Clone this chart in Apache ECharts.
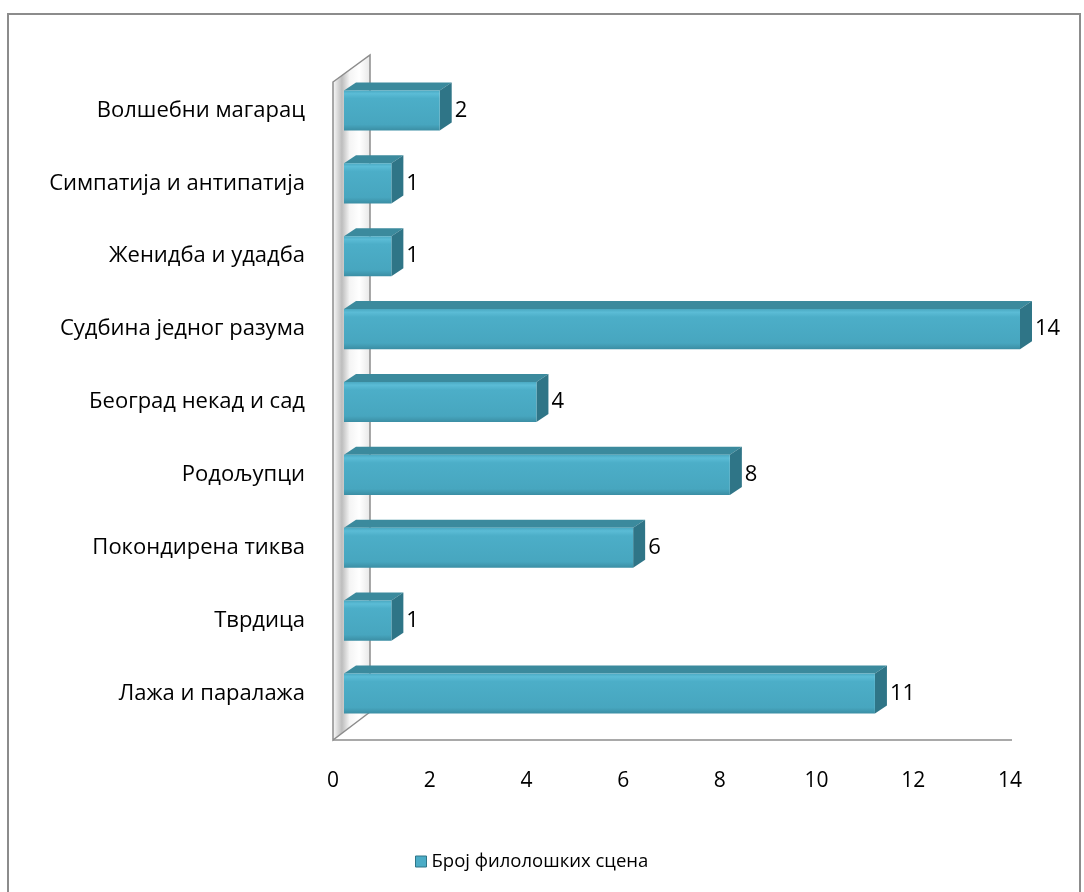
<!DOCTYPE html>
<html>
<head>
<meta charset="utf-8">
<style>
html,body{margin:0;padding:0;background:#fff;}
#c{width:1084px;height:892px;}
</style>
<script src="https://cdn.jsdelivr.net/npm/echarts@6/dist/echarts.min.js"></script>
</head>
<body>
<div id="c"></div>
<script>
// Data (bottom to top as in the chart)
const categories = [
  'Лажа и паралажа',
  'Тврдица',
  'Покондирена тиква',
  'Родољупци',
  'Београд некад и сад',
  'Судбина једног разума',
  'Женидба и удадба',
  'Симпатија и антипатија',
  'Волшебни магарац'
];
const values = [11, 1, 6, 8, 4, 14, 1, 1, 2];
const seriesName = 'Број филолошких сцена';
const xTicks = [0, 2, 4, 6, 8, 10, 12, 14];

const FONT = '"Open Sans", "Noto Sans", sans-serif';
const DX = 12, DY = -8;

const chart = echarts.init(document.getElementById('c'), null, {renderer: 'canvas'});

function renderBar(params, api) {
  const cat = api.value(0);
  const v = api.value(1);
  const p0 = api.coord([0, cat]);
  const p1 = api.coord([v, cat]);
  const band = api.size([0, 1])[1];
  const h = band * 0.55;
  const x0 = p0[0] + 11;
  const x1 = p1[0] + 10;
  const yT = p0[1] - h / 2;
  const yB = p0[1] + h / 2;
  return {
    type: 'group',
    children: [
      {
        type: 'polygon',
        shape: {points: [[x0, yT], [x1, yT], [x1 + DX, yT + DY], [x0 + DX, yT + DY]]},
        style: {fill: '#3b8a9d'}
      },
      {
        type: 'polygon',
        shape: {points: [[x1, yT], [x1 + DX, yT + DY], [x1 + DX, yB + DY], [x1, yB]]},
        style: {fill: '#2f7587'}
      },
      {
        type: 'rect',
        shape: {x: x0, y: yT, width: x1 - x0, height: h},
        style: {
          fill: new echarts.graphic.LinearGradient(0, 0, 0, 1, [
            {offset: 0, color: '#4aa9c2'},
            {offset: 0.08, color: '#5bbcd6'},
            {offset: 0.2, color: '#4caec8'},
            {offset: 0.85, color: '#47a6bf'},
            {offset: 1, color: '#3b8ea4'}
          ])
        }
      },
      {
        type: 'text',
        style: {
          text: String(v),
          x: x1 + DX + 3,
          y: p0[1],
          textVerticalAlign: 'middle',
          verticalAlign: 'middle',
          fill: '#000',
          font: '22px ' + FONT
        }
      }
    ]
  };
}

const option = {
  animation: false,
  backgroundColor: '#fff',
  grid: {left: 333, right: 74, top: 74, bottom: 162},
  xAxis: {
    type: 'value',
    min: 0, max: 14, interval: 2,
    axisLine: {show: false},
    axisTick: {show: false},
    splitLine: {show: false},
    axisLabel: {
      margin: 41,
      color: '#000',
      fontSize: 21,
      fontFamily: FONT,
      formatter: function (v) { return xTicks.indexOf(v) >= 0 ? String(v) : ''; }
    }
  },
  yAxis: {
    type: 'category',
    data: categories,
    axisLine: {show: false},
    axisTick: {show: false},
    splitLine: {show: false},
    axisLabel: {
      margin: 28,
      color: '#000',
      fontSize: 22,
      fontFamily: FONT
    }
  },
  legend: {
    left: 410,
    top: 847,
    itemWidth: 11,
    itemHeight: 11,
    itemGap: 9,
    textStyle: {color: '#000', fontSize: 18.5, fontFamily: FONT},
    data: [{
      name: seriesName,
      icon: 'rect',
      itemStyle: {color: '#4bacc6', borderColor: '#2f7587', borderWidth: 1}
    }]
  },
  series: [{
    name: seriesName,
    type: 'custom',
    renderItem: renderBar,
    itemStyle: {color: '#4bacc6'},
    encode: {x: 1, y: 0},
    data: values.map(function (v, i) { return [i, v]; }),
    z: 10
  }]
};
chart.setOption(option);

// Decorative wall, floor and chart border derived from axis positions
const px0 = chart.convertToPixel({gridIndex: 0}, [0, 0]);
const pxMax = chart.convertToPixel({gridIndex: 0}, [14, 0]);
const gridTop = 74, gridBottom = 892 - 162;
const wx = px0[0], wBack = wx + 37;
const floorY = gridBottom + 10;
const topY = gridTop + 8;
chart.setOption({
  graphic: [
    {
      type: 'rect', z: -10,
      shape: {x: 8, y: 14, width: 1072, height: 900},
      style: {fill: 'none', stroke: '#8c8c8c', lineWidth: 2}
    },
    {
      type: 'polygon', z: 1,
      shape: {points: [[wx, topY], [wBack, topY - 27], [wBack, floorY - 28], [wx, floorY]]},
      style: {
        fill: new echarts.graphic.LinearGradient(0, 0, 1, 0, [
          {offset: 0, color: '#ffffff'},
          {offset: 0.25, color: '#bdbdbd'},
          {offset: 0.45, color: '#f4f4f4'},
          {offset: 0.7, color: '#ffffff'},
          {offset: 1, color: '#e6e6e6'}
        ]),
        stroke: '#8c8c8c', lineWidth: 1.5
      }
    },
    {
      type: 'polyline', z: 1,
      shape: {points: [[wx, floorY], [pxMax[0] + 2, floorY]]},
      style: {stroke: '#8c8c8c', lineWidth: 1.5, fill: 'none'}
    }
  ]
});
</script>
</body>
</html>
